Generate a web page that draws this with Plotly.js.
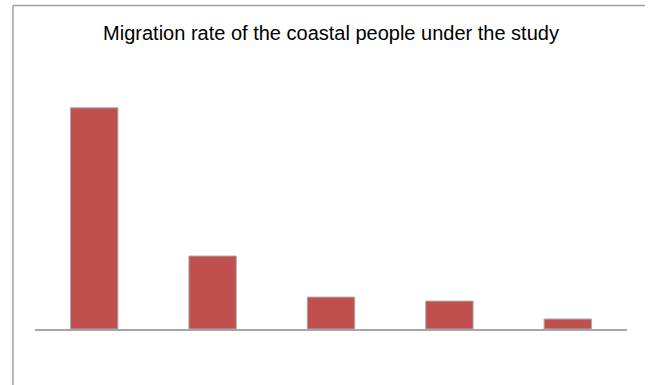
<!DOCTYPE html>
<html>
<head>
<meta charset="utf-8">
<script src="https://cdn.plot.ly/plotly-3.0.1.min.js"></script>
<style>html,body{margin:0;padding:0;background:#fff;}#chart{width:648px;height:385px;}</style>
</head>
<body>
<div id="chart"></div>
<script>
const categories = ["Category 1", "Category 2", "Category 3", "Category 4", "Category 5"];
const migrationRate = [55.5, 18.3, 8.0, 7.0, 2.5];
const chartTitle = "Migration rate of the coastal people under the study";

const trace = {
  type: "bar",
  x: categories,
  y: migrationRate,
  marker: { color: "#C0504D", line: { color: "#A9A9A9", width: 1 } },
  hoverinfo: "x+y"
};

const layout = {
  width: 648,
  height: 385,
  margin: { l: 35, r: 21, t: 60, b: 56 },
  paper_bgcolor: "#ffffff",
  plot_bgcolor: "#ffffff",
  showlegend: false,
  bargap: 0.6,
  title: {
    text: chartTitle,
    x: 0.5, xanchor: "center", xref: "paper",
    y: 0.914, yanchor: "middle", yref: "container",
    font: { family: "Liberation Sans, Arial", size: 20, color: "#000" }
  },
  xaxis: {
    showticklabels: false, ticks: "", showgrid: false, zeroline: false,
    showline: true, linecolor: "#A6A6A6", linewidth: 2, fixedrange: true
  },
  yaxis: {
    range: [0, 67.5], visible: false, showgrid: false, zeroline: false, fixedrange: true
  },
  shapes: [
    { type: "line", xref: "paper", yref: "paper", x0: -0.0372, x1: 1.0304, y0: 1.2026, y1: 1.2026,
      line: { color: "#A0A0A0", width: 1.5 } },
    { type: "line", xref: "paper", yref: "paper", x0: -0.0372, x1: -0.0372, y0: 1.2026, y1: -0.21,
      line: { color: "#A0A0A0", width: 1.5 } }
  ]
};

Plotly.newPlot("chart", [trace], layout, { displayModeBar: false, staticPlot: true });
</script>
</body>
</html>
